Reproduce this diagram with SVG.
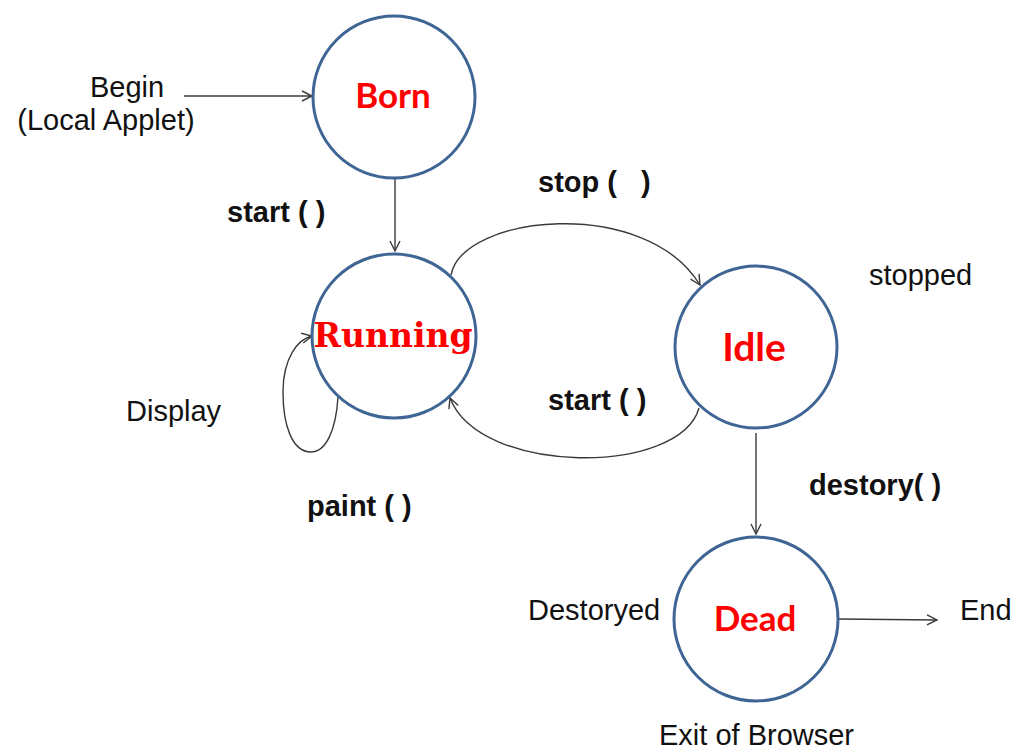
<svg xmlns="http://www.w3.org/2000/svg" width="1014" height="750" viewBox="0 0 1014 750">
  <style>
    .state { fill: #ffffff; stroke: #3e6594; stroke-width: 3; }
    .name { fill: #ff0000; font-weight: bold; text-anchor: middle; }
    .sans { font-family: Lato, "Open Sans", sans-serif; }
    .serif { font-family: "DejaVu Serif", "Liberation Serif", serif; }
    .label { font-family: "Liberation Sans", Arial, sans-serif; font-size: 29px; fill: #111111; }
    .bold { font-weight: bold; }
    .edge { fill: none; stroke: #3a3a3a; stroke-width: 1.4; marker-end: url(#open); }
  </style>
  <defs>
    <marker id="open" markerUnits="userSpaceOnUse" markerWidth="14" markerHeight="14" viewBox="-12 -7 14 14" refX="0" refY="0" orient="auto">
      <path d="M-10,-5 L0,0 L-10,5" fill="none" stroke="#3a3a3a" stroke-width="1.4"/>
    </marker>
  </defs>

  <rect width="1014" height="750" fill="#ffffff"/>

  <!-- transitions -->
  <g id="connectors">
    <path class="edge" d="M184,96 L312,96"/>
    <path class="edge" d="M395,179 L395,251"/>
    <path class="edge" d="M451,275 C462,215 645,195 700,285"/>
    <path class="edge" d="M699,408 C680,476 480,476 450,398"/>
    <path class="edge" d="M338,397 C336,430 326,452 311,452 C292,452 283,425 283,392 C283,358 298,339 312,336"/>
    <path class="edge" d="M756,433 L756,534"/>
    <path class="edge" d="M838,619 L937,620"/>
  </g>

  <!-- states -->
  <g id="born">
    <circle class="state" cx="394" cy="97" r="81"/>
    <text class="name sans" x="393" y="108" font-size="35">Born</text>
  </g>
  <g id="running">
    <circle class="state" cx="394" cy="336" r="82"/>
    <text class="name serif" x="393" y="347" font-size="33">Running</text>
  </g>
  <g id="idle">
    <circle class="state" cx="756" cy="347" r="81"/>
    <text class="name sans" x="754" y="361" font-size="39">Idle</text>
  </g>
  <g id="dead">
    <circle class="state" cx="756" cy="619" r="82"/>
    <text class="name sans" x="755" y="631" font-size="35">Dead</text>
  </g>

  <!-- annotations -->
  <g id="labels">
    <text class="label" x="127" y="97" text-anchor="middle">Begin</text>
    <text class="label" x="106" y="130" text-anchor="middle">(Local Applet)</text>
    <text class="label bold" x="227" y="222">start ( )</text>
    <text class="label bold" x="538" y="192" xml:space="preserve" style="white-space:pre">stop (   )</text>
    <text class="label" x="869" y="285">stopped</text>
    <text class="label bold" x="548" y="410">start ( )</text>
    <text class="label" x="126" y="421">Display</text>
    <text class="label bold" x="307" y="516">paint ( )</text>
    <text class="label bold" x="809" y="495">destory( )</text>
    <text class="label" x="528" y="620">Destoryed</text>
    <text class="label" x="960" y="620">End</text>
    <text class="label" x="659" y="745">Exit of Browser</text>
  </g>
</svg>
